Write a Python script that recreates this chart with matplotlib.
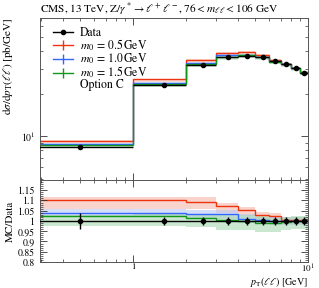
import matplotlib
matplotlib.use('Agg')
import matplotlib.pyplot as plt
from matplotlib.lines import Line2D
from matplotlib.ticker import FixedLocator, FixedFormatter, MultipleLocator, NullFormatter, LogLocator
import numpy as np

plt.rcParams['font.family'] = ['STIXGeneral', 'DejaVu Serif']
plt.rcParams['mathtext.fontset'] = 'stix'

# bin edges in pT(ll) [GeV]; first bin really starts at 0, clipped on the log axis
bin_edges = [0.01, 1, 2, 3, 4, 5, 6, 7, 8, 9, 10]
bin_centres = [0.5, 1.5, 2.5, 3.5, 4.5, 5.5, 6.5, 7.5, 8.5, 9.5]

# data [pb/GeV] and relative uncertainty
data_vals = [8.4, 22.9, 31.7, 36.1, 37.2, 36.5, 34.0, 32.4, 30.2, 28.1]
data_rel_err = [0.037, 0.02, 0.02, 0.018, 0.018, 0.018, 0.018, 0.018, 0.018, 0.018]

# MC/Data ratios and band edges
red_ratio = [1.10, 1.10, 1.095, 1.072, 1.052, 1.028, 1.023, 1.007, 1.007, 1.005]
red_lo = [1.06, 1.06, 1.06, 1.04, 1.025, 1.0, 0.998, 0.985, 0.985, 0.985]
red_hi = [1.117, 1.117, 1.115, 1.088, 1.07, 1.043, 1.038, 1.02, 1.02, 1.02]

blue_ratio = [1.041, 1.041, 1.036, 1.034, 1.012, 1.003, 1.0, 1.0, 1.0, 1.0]
blue_lo = [1.02, 1.02, 1.015, 1.012, 0.99, 0.985, 0.982, 0.982, 0.982, 0.982]
blue_hi = [1.06, 1.06, 1.055, 1.055, 1.032, 1.02, 1.018, 1.018, 1.018, 1.018]

green_ratio = [1.024, 1.024, 1.016, 1.007, 1.002, 0.990, 0.990, 0.995, 1.0, 1.0]
green_lo = [0.978, 0.975, 0.97, 0.958, 0.958, 0.946, 0.946, 0.955, 0.96, 0.962]
green_hi = [1.031, 1.032, 1.03, 1.036, 1.03, 1.023, 1.016, 1.02, 1.022, 1.022]

labels = [r'$m_0\,=\,0.5\,\mathrm{GeV}$', r'$m_0\,=\,1.0\,\mathrm{GeV}$', r'$m_0\,=\,1.5\,\mathrm{GeV}$']
colors = ['#EE3311', '#3366FF', '#109618']
band_colors = ['#F5B8AA', '#B8C8F5', '#A8D8B0']

ratio_ticks = [0.8, 0.85, 0.9, 0.95, 1.0, 1.05, 1.1, 1.15]
ratio_ticklabels = ['0.8', '0.85', '0.9', '0.95', '1', '1.05', '1.1', '1.15']

data = np.array(data_vals)
derr = data * np.array(data_rel_err)
models = [(red_ratio, red_lo, red_hi), (blue_ratio, blue_lo, blue_hi), (green_ratio, green_lo, green_hi)]

fig = plt.figure(figsize=(3.19, 2.88), dpi=100)
ax = fig.add_axes([0.1254, 0.375, 0.8401, 0.5625])
rax = fig.add_axes([0.1254, 0.0903, 0.8401, 0.2847], sharex=ax)

# bands first
for (r, lo, hi), bc in zip(models, band_colors):
    ax.stairs(data * np.array(hi), bin_edges, baseline=data * np.array(lo), fill=True, color=bc, alpha=0.5, lw=0)
    rax.stairs(hi, bin_edges, baseline=lo, fill=True, color=bc, alpha=0.6, lw=0)

for (r, lo, hi), c in zip(models, colors):
    ax.stairs(data * np.array(r), bin_edges, baseline=None, color=c, lw=1.0)
    rax.stairs(r, bin_edges, baseline=None, color=c, lw=1.0)

xlo = np.array(bin_centres) - np.array(bin_edges[:-1])
xhi = np.array(bin_edges[1:]) - np.array(bin_centres)
ax.errorbar(bin_centres, data, yerr=derr, xerr=[xlo, xhi], fmt='o', color='black',
            ms=3, lw=1.0, capsize=0, zorder=5)
rax.axhline(1.0, color='black', lw=1.0, zorder=4)
rax.errorbar(bin_centres, np.ones(len(data)), yerr=data_rel_err, fmt='o', color='black',
             ms=3, lw=1.0, capsize=0, zorder=5)

ax.set_xscale('log')
ax.set_yscale('log')
ax.set_xlim(0.295, 10)
ax.set_ylim(4.88, 68.7)
rax.set_ylim(0.8, 1.2)

for a in (ax, rax):
    a.tick_params(which='both', direction='in', top=True, right=True, labelsize=7, color='#333333')
    a.tick_params(which='major', length=5, width=0.6)
    a.tick_params(which='minor', length=2.5, width=0.5)
    for s in a.spines.values():
        s.set_linewidth(0.7)
        s.set_color('#555555')

ax.yaxis.set_major_locator(FixedLocator([10]))
ax.yaxis.set_major_formatter(FixedFormatter([r'$10^1$']))
ax.yaxis.set_minor_locator(LogLocator(subs=np.arange(2, 10)))
ax.yaxis.set_minor_formatter(NullFormatter())
plt.setp(ax.get_xticklabels(which='both'), visible=False)

rax.xaxis.set_major_locator(FixedLocator([1, 10]))
rax.xaxis.set_major_formatter(FixedFormatter(['1', r'$10^1$']))
rax.xaxis.set_minor_locator(LogLocator(subs=np.arange(2, 10)))
rax.xaxis.set_minor_formatter(NullFormatter())
rax.tick_params(axis='x', pad=1, labelsize=6.5)
rax.yaxis.set_major_locator(FixedLocator(ratio_ticks))
rax.yaxis.set_major_formatter(FixedFormatter(ratio_ticklabels))
rax.yaxis.set_minor_locator(MultipleLocator(0.01))

ax.set_ylabel(r'$\mathrm{d}\sigma/\mathrm{d}p_\mathrm{T}(\ell\ell)$ [pb/GeV]', loc='top', fontsize=8, labelpad=4)
rax.set_ylabel('MC/Data', fontsize=8, labelpad=2)
rax.set_xlabel(r'$p_\mathrm{T}(\ell\ell)$ [GeV]', loc='right', fontsize=7.2, va='center')
rax.xaxis.set_label_coords(1.0, -0.245)
ax.set_title(r'CMS, 13 TeV, Z/$\gamma^*\to\ell^+\ell^-$, $76 < m_{\ell\ell} < 106$ GeV',
             loc='left', fontsize=8.2, pad=4)

handles = [Line2D([], [], color='black', marker='o', ms=3, lw=1.0)]
for c in colors:
    handles.append(Line2D([], [], color=c, marker='|', ms=7, lw=1.0))
handles.append(Line2D([], [], lw=0))
ax.legend(handles, ['Data'] + labels + ['Option C'], loc='upper left', bbox_to_anchor=(0.035, 0.965),
          frameon=False, fontsize=8.5, handlelength=1.7, handletextpad=0.6, labelspacing=-0.12,
          borderaxespad=0.0, borderpad=0.3)

fig.savefig('out.png', dpi=100)
